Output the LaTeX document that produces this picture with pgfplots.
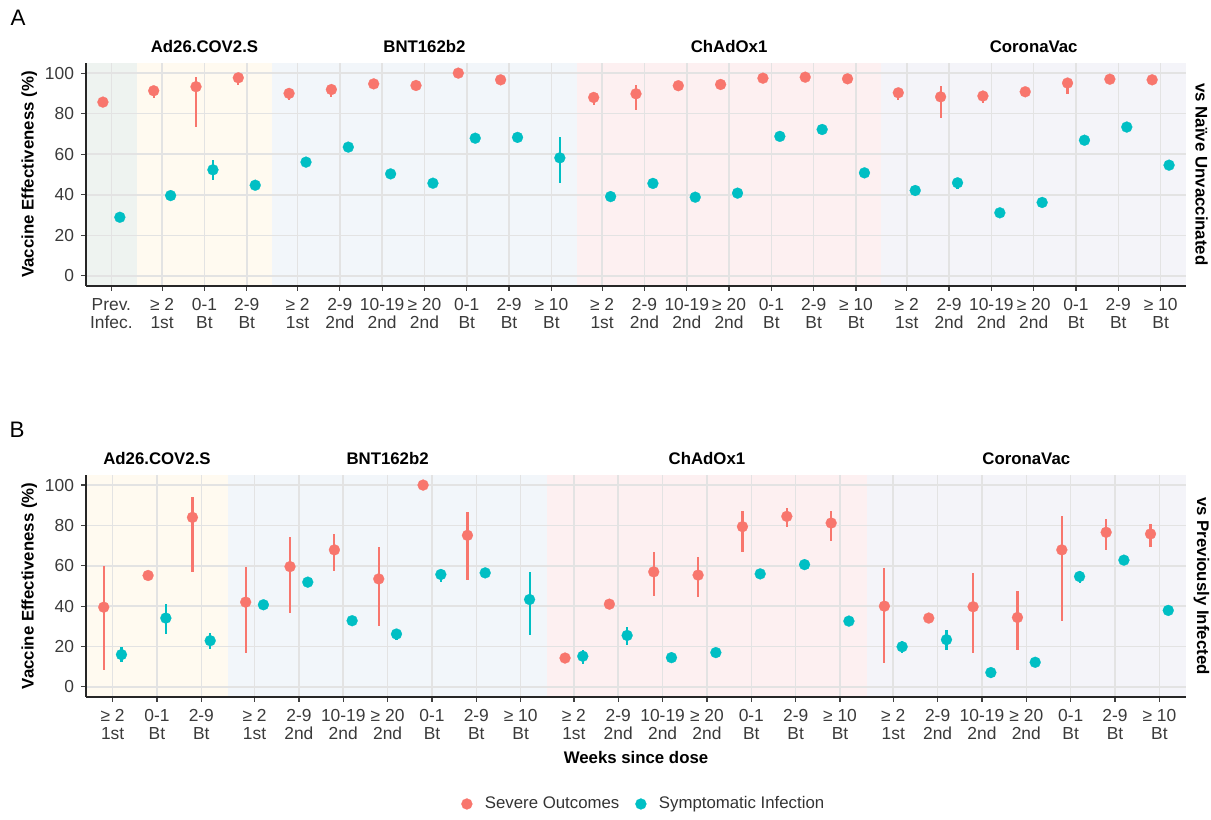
\documentclass[border=0pt]{standalone}
\usepackage{fontspec}
\setmainfont{Liberation Sans}
\usepackage{pgfplots}
\usepackage{pgfplotstable}
\pgfplotsset{compat=1.18}

\definecolor{sev}{HTML}{F8766D}
\definecolor{sym}{HTML}{00BFC4}
\definecolor{gridc}{HTML}{E3E3E3}
\definecolor{tickc}{HTML}{3A3A3A}
\definecolor{bgPrev}{HTML}{EEF3F0}
\definecolor{bgAd}{HTML}{FFFAF0}
\definecolor{bgBNT}{HTML}{F2F6FA}
\definecolor{bgCh}{HTML}{FDF0F1}
\definecolor{bgCo}{HTML}{F4F4F9}

% Panel A: vs naive unvaccinated
\pgfplotstableread{
x y ep em
0 85.7 1 1
1.2 91.3 1.5 3.6
2.2 93.3 4.7 20.1
3.2 97.7 1 3.7
4.4 90.0 1.5 3.5
5.4 91.9 1.5 3.7
6.4 94.7 1 1.5
7.4 93.9 1 1.5
8.4 100 0 0.5
9.4 96.7 1 1.5
11.6 88.0 1.5 3.6
12.6 89.8 4.4 7.9
13.6 93.8 1 1.5
14.6 94.4 1 1.5
15.6 97.5 1 1.5
16.6 98.0 1 1.5
17.6 97.2 1 1.5
18.8 90.3 1.5 3.5
19.8 88.3 5.5 10.3
20.8 88.7 1.5 3.2
21.8 90.8 1 1.5
22.8 95.1 1.5 5.3
23.8 97.0 1 1.5
24.8 96.7 1 1.5
}\sevA
\pgfplotstableread{
x y ep em
0 28.9 1 1
1.2 39.6 1 1
2.2 52.3 4.9 5.1
3.2 44.7 1 1
4.4 56.1 1 1
5.4 63.5 1 1
6.4 50.3 1 1
7.4 45.7 1 1
8.4 67.9 1 1
9.4 68.3 1 1
10.4 58.2 10.1 12.6
11.6 39.1 1 1
12.6 45.6 1 1
13.6 38.8 1 1
14.6 40.8 1 1
15.6 68.8 1 1
16.6 72.2 1 1
17.6 50.8 1 1
18.8 42.1 1 1
19.8 45.9 1.5 3
20.8 31.1 1 1
21.8 36.2 1 1
22.8 66.9 1 1
23.8 73.4 1 1
24.8 54.6 1 1
}\symA

% Panel B: vs previously infected
\pgfplotstableread{
x y ep em
0 39.5 20.5 31.1
1 55.2 1 1
2 84.0 10.2 27.3
3.2 42.0 17.5 25.2
4.2 59.6 14.7 23.0
5.2 67.9 7.7 10.4
6.2 53.5 15.7 23.4
7.2 100 0 0.5
8.2 75.1 11.6 21.9
10.4 14.3 1 1
11.4 41.0 1 1
12.4 57.0 9.7 12.2
13.4 55.4 8.9 10.8
14.4 79.4 7.9 12.7
15.4 84.5 4.0 5.1
16.4 81.2 5.9 8.7
17.6 40.0 19.1 28.3
18.6 34.1 1 1
19.6 39.7 16.8 22.9
20.6 34.4 13.0 16.1
21.6 67.9 16.9 35.3
22.6 76.6 6.4 8.6
23.6 75.8 4.8 6.3
}\sevB
\pgfplotstableread{
x y ep em
0 16.0 3.6 3.5
1 34.1 7.1 7.9
2 22.9 3.8 4.1
3.2 40.7 1 1
4.2 51.9 1 1
5.2 32.8 1 1
6.2 26.2 2.5 2.8
7.2 55.7 2.8 3.5
8.2 56.5 1 1
9.2 43.3 13.4 17.6
10.4 15.2 3.3 3.8
11.4 25.5 4.2 4.6
12.4 14.5 1 1
13.4 17.0 1 1
14.4 56.0 1 1
15.4 60.6 1 1
16.4 32.6 1 1
17.6 19.9 2.7 3.1
18.6 23.4 4.8 4.9
19.6 7.1 2.3 2.7
20.6 12.2 1 1
21.6 54.7 2.5 3
22.6 62.8 1 1
23.6 37.9 1 1
}\symB

\tikzset{
  strip/.style={font=\fontsize{8.4}{10}\selectfont\bfseries, anchor=base},
  rstrip/.style={font=\fontsize{8.4}{10}\selectfont\bfseries, rotate=-90, anchor=center, inner sep=0pt},
}
\pgfplotsset{
  vestyle/.style={
    scale only axis, width=550pt, set layers, clip=false,
    xmin=-0.6, ymin=-5, ymax=105, enlargelimits=false,
    axis x line*=bottom, axis y line*=left,
    axis line style={-, line width=0.9pt, black!85},
    tick align=outside, major tick length=2.5pt,
    tick style={line width=0.6pt, black!75},
    ytick={0,20,...,100},
    grid=major, major grid style={line width=0.8pt, gridc},
    ticklabel style={font=\fontsize{8.7}{9.3}\selectfont, text=tickc},
    xticklabel style={align=center},
    /pgf/number format/assume math mode=true,
    ylabel={Vaccine Effectiveness (\%)},
    every axis y label/.style={at={(axis description cs:-0.0515,0.5)}, rotate=90, anchor=center, font=\fontsize{8.4}{10}\selectfont\bfseries},
  },
  sevp/.style={only marks, mark=*, mark size=2.75pt, color=sev, mark options={fill=sev, draw=sev, line width=0.1pt},
    error bars/.cd, y dir=both, y explicit, error mark=none, error bar style={line width=1.05pt, color=sev}},
  symp/.style={only marks, mark=*, mark size=2.75pt, color=sym, mark options={fill=sym, draw=sym, line width=0.1pt},
    error bars/.cd, y dir=both, y explicit, error mark=none, error bar style={line width=1.05pt, color=sym}},
}

\begin{document}
\begin{tikzpicture}
\path (0,0) rectangle (605.5pt,407pt);

% ---------- Panel A ----------
\begin{axis}[vestyle, height=111.5pt, at={(43pt,264pt)}, anchor=south west,
  xmax=25.4,
  xtick={0,1.2,2.2,3.2,4.4,5.4,6.4,7.4,8.4,9.4,10.4,11.6,12.6,13.6,14.6,15.6,16.6,17.6,18.8,19.8,20.8,21.8,22.8,23.8,24.8},
  xticklabels={{Prev.\\Infec.},{≥ 2\\1st},{0-1\\Bt},{2-9\\Bt},{≥ 2\\1st},{2-9\\2nd},{10-19\\2nd},{≥ 20\\2nd},{0-1\\Bt},{2-9\\Bt},{≥ 10\\Bt},{≥ 2\\1st},{2-9\\2nd},{10-19\\2nd},{≥ 20\\2nd},{0-1\\Bt},{2-9\\Bt},{≥ 10\\Bt},{≥ 2\\1st},{2-9\\2nd},{10-19\\2nd},{≥ 20\\2nd},{0-1\\Bt},{2-9\\Bt},{≥ 10\\Bt}},
]
\begin{pgfonlayer}{axis background}
\fill[bgPrev] (axis cs:-0.6,-5) rectangle (axis cs:0.6,105);
\fill[bgAd] (axis cs:0.6,-5) rectangle (axis cs:3.8,105);
\fill[bgBNT] (axis cs:3.8,-5) rectangle (axis cs:11,105);
\fill[bgCh] (axis cs:11,-5) rectangle (axis cs:18.2,105);
\fill[bgCo] (axis cs:18.2,-5) rectangle (axis cs:25.4,105);
\end{pgfonlayer}
\addplot[sevp] table[x expr=\thisrow{x}-0.2, y=y, y error plus=ep, y error minus=em]{\sevA};
\addplot[symp] table[x expr=\thisrow{x}+0.2, y=y, y error plus=ep, y error minus=em]{\symA};
\node[strip] at (axis cs:2.2,105) [yshift=5.2pt] {Ad26.COV2.S};
\node[strip] at (axis cs:7.4,105) [yshift=5.2pt] {BNT162b2};
\node[strip] at (axis cs:14.6,105) [yshift=5.2pt] {ChAdOx1};
\node[strip] at (axis cs:21.8,105) [yshift=5.2pt] {CoronaVac};
\node[rstrip] at (axis description cs:1.0141,0.5) {vs Naïve Unvaccinated};
\end{axis}

% ---------- Panel B ----------
\begin{axis}[vestyle, height=111pt, at={(43pt,58.5pt)}, anchor=south west,
  xmax=24.2,
  xtick={0,1,2,3.2,4.2,5.2,6.2,7.2,8.2,9.2,10.4,11.4,12.4,13.4,14.4,15.4,16.4,17.6,18.6,19.6,20.6,21.6,22.6,23.6},
  xticklabels={{≥ 2\\1st},{0-1\\Bt},{2-9\\Bt},{≥ 2\\1st},{2-9\\2nd},{10-19\\2nd},{≥ 20\\2nd},{0-1\\Bt},{2-9\\Bt},{≥ 10\\Bt},{≥ 2\\1st},{2-9\\2nd},{10-19\\2nd},{≥ 20\\2nd},{0-1\\Bt},{2-9\\Bt},{≥ 10\\Bt},{≥ 2\\1st},{2-9\\2nd},{10-19\\2nd},{≥ 20\\2nd},{0-1\\Bt},{2-9\\Bt},{≥ 10\\Bt}},
  xlabel={Weeks since dose},
  every axis x label/.style={at={(axis description cs:0.5,-0.3018)}, anchor=base, font=\fontsize{8.4}{10}\selectfont\bfseries},
  legend style={at={(axis description cs:0.508,-0.482)}, anchor=center, draw=none, fill=none,
    font=\fontsize{8.4}{10}\selectfont, text=black!80, legend columns=2,
    /tikz/every even column/.append style={column sep=6pt}},
  legend image code/.code={\draw[#1, mark size=2.75pt] plot coordinates {(0cm,0cm)}; \node[inner sep=0pt, minimum width=0.34cm, minimum height=1pt, anchor=west] at (-0.1cm,0cm) {};},
]
\begin{pgfonlayer}{axis background}
\fill[bgAd] (axis cs:-0.6,-5) rectangle (axis cs:2.6,105);
\fill[bgBNT] (axis cs:2.6,-5) rectangle (axis cs:9.8,105);
\fill[bgCh] (axis cs:9.8,-5) rectangle (axis cs:17,105);
\fill[bgCo] (axis cs:17,-5) rectangle (axis cs:24.2,105);
\end{pgfonlayer}
\addplot[sevp] table[x expr=\thisrow{x}-0.2, y=y, y error plus=ep, y error minus=em]{\sevB};
\addlegendentry{Severe Outcomes}
\addplot[symp] table[x expr=\thisrow{x}+0.2, y=y, y error plus=ep, y error minus=em]{\symB};
\addlegendentry{Symptomatic Infection}
\node[strip] at (axis cs:1,105) [yshift=5pt] {Ad26.COV2.S};
\node[strip] at (axis cs:6.2,105) [yshift=5pt] {BNT162b2};
\node[strip] at (axis cs:13.4,105) [yshift=5pt] {ChAdOx1};
\node[strip] at (axis cs:20.6,105) [yshift=5pt] {CoronaVac};
\node[rstrip] at (axis description cs:1.0141,0.5) {vs Previously Infected};
\end{axis}

\node[font=\fontsize{11.2}{12}\selectfont, anchor=center] at (9pt,398pt) {A};
\node[font=\fontsize{11.2}{12}\selectfont, anchor=center] at (8.5pt,192pt) {B};
\end{tikzpicture}
\end{document}
